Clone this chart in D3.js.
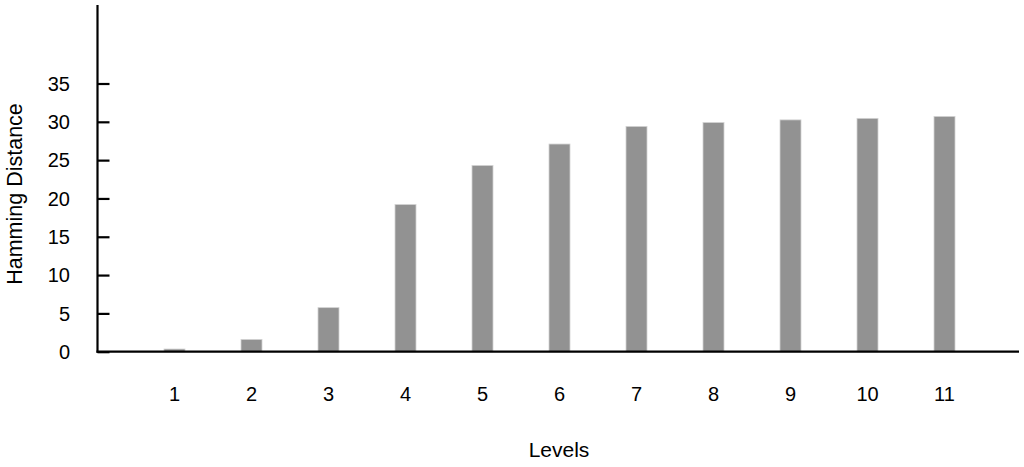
<!DOCTYPE html>
<html>
<head>
<meta charset="utf-8">
<script src="https://cdn.jsdelivr.net/npm/d3@7"></script>
<style>
  html, body { margin: 0; padding: 0; background: #fff; }
  svg { display: block; }
  text { font-family: Helvetica, Arial, "Liberation Sans", sans-serif; fill: #000; }
</style>
</head>
<body>
<svg id="chart" width="1024" height="467"></svg>
<script>
const levels = [1, 2, 3, 4, 5, 6, 7, 8, 9, 10, 11];
const hamming = [0.35, 1.6, 5.75, 19.2, 24.3, 27.1, 29.4, 29.9, 30.25, 30.45, 30.7];
const yTicks = [0, 5, 10, 15, 20, 25, 30, 35];
const xTitle = "Levels";
const yTitle = "Hamming Distance";

const svg = d3.select("#chart");
const axisX0 = 97.5, axisX1 = 1019, axisY0 = 351.7, axisTop = 5;

const x = d3.scaleLinear().domain([1, 11]).range([174.5, 944.5]);
const y = d3.scaleLinear().domain([0, 35]).range([axisY0, 83.5]);
const barW = 21;

// bars
svg.append("g").selectAll("rect")
  .data(levels.map((l, i) => ({ l, v: hamming[i] })))
  .join("rect")
  .attr("x", d => x(d.l) - barW / 2)
  .attr("y", d => y(d.v))
  .attr("width", barW)
  .attr("height", d => y(0) - y(d.v))
  .attr("fill", "#929292")
  .attr("stroke", "#d2d2d2")
  .attr("stroke-width", 0.8);

// y axis
const yAxis = d3.axisRight(y).tickValues(yTicks).tickSize(12).tickFormat("");
const gy = svg.append("g").attr("transform", `translate(${axisX0},0)`).call(yAxis);
gy.select(".domain").remove();
gy.selectAll(".tick line").attr("stroke", "#000").attr("stroke-width", 2.2);
svg.append("line")
  .attr("x1", axisX0).attr("x2", axisX0)
  .attr("y1", axisTop).attr("y2", axisY0 + 1)
  .attr("stroke", "#000").attr("stroke-width", 2.2);

svg.append("g").selectAll("text")
  .data(yTicks)
  .join("text")
  .attr("x", 70)
  .attr("y", d => y(d))
  .attr("dy", "0.36em")
  .attr("text-anchor", "end")
  .attr("font-size", 20)
  .text(d => d);

// x axis
const xAxis = d3.axisBottom(x).tickValues(levels).tickSize(0).tickFormat("");
const gx = svg.append("g").attr("transform", `translate(0,${axisY0})`).call(xAxis);
gx.select(".domain").remove();
svg.append("line")
  .attr("x1", axisX0 - 1).attr("x2", axisX1)
  .attr("y1", axisY0).attr("y2", axisY0)
  .attr("stroke", "#000").attr("stroke-width", 2.2);

svg.append("g").selectAll("text")
  .data(levels)
  .join("text")
  .attr("x", d => x(d))
  .attr("y", 401)
  .attr("text-anchor", "middle")
  .attr("font-size", 20)
  .text(d => d);

// titles
svg.append("text")
  .attr("x", 559).attr("y", 457)
  .attr("text-anchor", "middle")
  .attr("font-size", 21)
  .text(xTitle);

svg.append("text")
  .attr("transform", "translate(22,194) rotate(-90)")
  .attr("text-anchor", "middle")
  .attr("font-size", 21.5)
  .text(yTitle);
</script>
</body>
</html>
